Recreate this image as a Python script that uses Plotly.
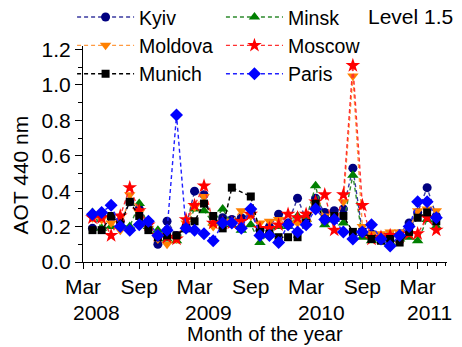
import plotly.graph_objects as go
import pandas as pd

months = pd.date_range("2008-04-01", "2011-05-01", freq="MS").strftime("%Y-%m-%d").tolist()

kyiv = [0.19,0.27,0.25,0.23,0.34,0.30,0.22,0.10,0.23,0.15,0.20,0.40,0.38,0.22,0.25,0.24,0.25,0.27,0.18,0.20,
        0.27,0.22,0.36,0.24,0.36,0.28,0.29,0.30,0.53,0.17,0.16,0.14,0.15,0.16,0.22,0.28,0.42,0.26]
minsk = [0.28,0.19,0.20,0.21,0.20,0.33,0.20,0.18,0.13,0.12,0.19,0.30,0.29,0.22,0.30,0.21,0.18,0.21,0.11,0.17,
         0.20,0.20,0.26,0.24,0.43,0.21,0.24,0.22,0.49,0.14,0.12,0.13,0.11,0.13,0.14,0.12,0.24,0.20]
moldova = [0.25,0.24,0.22,0.18,0.38,0.28,0.19,0.13,0.10,0.13,0.22,0.31,0.37,0.20,0.22,0.23,0.29,0.26,0.22,0.23,
           0.24,0.21,0.22,0.22,0.32,0.26,0.23,0.34,1.05,0.20,0.16,0.16,0.17,0.17,0.19,0.29,0.30,0.29]
moscow = [0.25,0.25,0.15,0.26,0.42,0.29,0.21,0.15,0.14,0.13,0.24,0.32,0.43,0.22,0.22,0.22,0.23,0.27,0.19,0.19,
          0.21,0.27,0.25,0.27,0.34,0.38,0.18,0.38,1.11,0.32,0.13,0.14,0.15,0.14,0.16,0.16,0.25,0.18]
munich = [0.18,0.18,0.26,0.21,0.34,0.26,0.18,0.14,0.15,0.15,0.19,0.23,0.33,0.26,0.19,0.42,None,0.37,0.17,0.16,
          0.14,0.14,0.14,0.22,0.33,0.24,0.26,0.26,0.17,0.17,0.13,0.12,0.13,0.11,0.17,0.25,0.28,0.23]
paris = [0.27,0.28,0.32,0.20,0.18,0.21,0.23,0.15,0.18,0.83,0.19,0.18,0.16,0.12,0.22,0.22,0.19,0.30,0.15,0.15,
         0.11,0.21,0.17,0.21,0.30,0.24,0.24,0.17,0.13,0.17,0.21,0.13,0.09,0.15,0.20,0.34,0.34,0.25]

tick_dates = ["2008-03-01","2008-09-01","2009-03-01","2009-09-01","2010-03-01","2010-09-01","2011-03-01"]
tick_text = ["Mar","Sep","Mar","Sep","Mar","Sep","Mar"]
years = ["2008","2009","2010","2011"]
year_pos = ["2008-04-15","2009-04-15","2010-04-20","2011-04-08"]

# name, values, marker colour, line colour, symbol, size, legend column
series = [
    ("Kyiv", kyiv, "#000080", "#3a3aa0", "circle", 9, "legend"),
    ("Minsk", minsk, "#008000", "#2e8b2e", "triangle-up", 10, "legend2"),
    ("Moldova", moldova, "#FF8000", "#FF9a40", "triangle-down", 10, "legend"),
    ("Moscow", moscow, "#FF0000", "#FF3030", "star", 11, "legend2"),
    ("Munich", munich, "#000000", "#000000", "square", 8, "legend"),
    ("Paris", paris, "#0000FF", "#2020ff", "diamond", 10, "legend2"),
]

fig = go.Figure()
for name, vals, mc, lc, sym, sz, lg in series:
    fig.add_trace(go.Scatter(
        x=months, y=vals, name=name, mode="lines+markers",
        connectgaps=True, legend=lg,
        line=dict(color=lc, width=1.4, dash="4px,3px"),
        marker=dict(color=mc, symbol=sym, size=sz, line=dict(width=0)),
    ))

font = "Liberation Sans, Arial, sans-serif"
fs = 21
leg_common = dict(yanchor="top", xanchor="left", bgcolor="rgba(0,0,0,0)",
                  font=dict(size=19.5), itemwidth=57, tracegroupgap=0, orientation="v")
fig.update_layout(
    width=462, height=347,
    margin=dict(l=83, r=15, t=46, b=85, autoexpand=False),
    paper_bgcolor="white", plot_bgcolor="white",
    font=dict(family=font, size=fs, color="black"),
    showlegend=True,
    legend=dict(x=-0.03, y=1.223, **leg_common),
    legend2=dict(x=0.379, y=1.223, **leg_common),
    xaxis=dict(
        type="date", range=["2008-03-01", "2011-06-05"],
        tickvals=tick_dates, ticktext=tick_text,
        showgrid=False, zeroline=False, showline=True, linecolor="black", linewidth=1,
        ticks="outside", ticklen=6, tickcolor="black",
        minor=dict(dtick="M1", tick0="2008-03-01", ticks="outside", ticklen=3, tickcolor="black", showgrid=False),
    ),
    yaxis=dict(
        range=[0, 1.22], tickvals=[0, 0.2, 0.4, 0.6, 0.8, 1.0, 1.2],
        ticktext=["0.0", "0.2", "0.4", "0.6", "0.8", "1.0", "1.2"],
        showgrid=False, zeroline=False, showline=True, linecolor="black", linewidth=1,
        ticks="outside", ticklen=7, tickcolor="black",
        minor=dict(dtick=0.1, ticks="outside", ticklen=4, tickcolor="black", showgrid=False),
    ),
)

for yr, pos in zip(years, year_pos):
    fig.add_annotation(x=pos, y=-0.234, xref="x", yref="paper", text=yr, showarrow=False,
                       xanchor="center", yanchor="middle", font=dict(size=fs))

fig.add_annotation(x=0.5, y=-0.335, xref="paper", yref="paper", text="Month of the year",
                   showarrow=False, xanchor="center", yanchor="middle", font=dict(size=20))
fig.add_annotation(x=-0.173, y=0.401, xref="paper", yref="paper", text="AOT 440 nm",
                   textangle=-90, showarrow=False, xanchor="center", yanchor="middle", font=dict(size=fs))
fig.add_annotation(x=1.022, y=1.135, xref="paper", yref="paper", text="Level 1.5",
                   showarrow=False, xanchor="right", yanchor="middle", font=dict(size=fs))

fig.write_html("out.html")
